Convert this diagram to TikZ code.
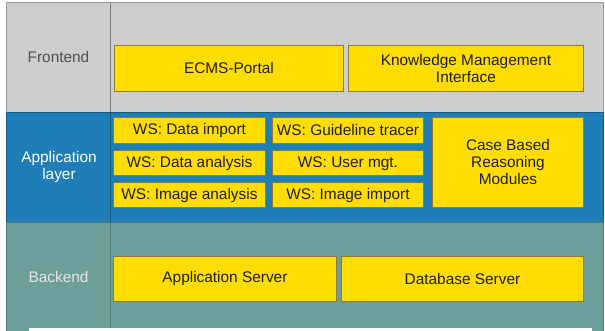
\documentclass[tikz,border=0pt]{standalone}
\usepackage{fontspec}
\setmainfont{Liberation Sans}
\definecolor{feGray}{HTML}{CDCDCD}
\definecolor{feLine}{HTML}{9A9A9A}
\definecolor{feDiv}{HTML}{7C7C7C}
\definecolor{apBlue}{HTML}{1F7DB7}
\definecolor{apLine}{HTML}{145A86}
\definecolor{beTeal}{HTML}{6C9F99}
\definecolor{beLine}{HTML}{4C7A74}
\definecolor{boxYellow}{HTML}{FFDD00}
\definecolor{boxLine}{HTML}{8A7D30}
\definecolor{boxText}{HTML}{1E1E1E}
\newcommand\lblfont{\fontsize{15.4}{17}\selectfont}
\begin{document}
\begin{tikzpicture}[x=1pt,y=-1pt,
  bandbox/.style={line width=0.8pt},
  ybox/.style={draw=boxLine, fill=boxYellow, line width=0.9pt, anchor=north west,
    inner sep=0pt, align=center, text=boxText, font=\lblfont},
  lbl/.style={align=center, font=\lblfont}]
\useasboundingbox (0,0) rectangle (605,331);
% bands
\draw[bandbox, fill=feGray, draw=feLine] (6,2) rectangle (603,112);
\draw[bandbox, fill=apBlue, draw=apLine] (6,112) rectangle (603,222);
\draw[bandbox, fill=beTeal, draw=beLine] (6,222) rectangle (603,333);
\draw[line width=0.9pt, draw=feDiv] (110.7,2) -- (110.7,112);
\draw[line width=0.9pt, draw=apLine] (110.7,112) -- (110.7,222);
\draw[line width=0.9pt, draw=beLine] (110.7,222) -- (110.7,331);
\fill[white] (29,328) rectangle (592,331);
% labels
\node[lbl, text=black!68] (fe) at (58.5,57) {Frontend};
\node[lbl, text=white] (ap) at (59,167) {Application\\layer};
\node[lbl, text=white!90!black] (be) at (58.5,277) {Backend};
% frontend boxes
\node[ybox, minimum width=229pt, minimum height=46pt] (ecms) at (114,45) {ECMS-Portal};
\node[ybox, minimum width=235pt, minimum height=46pt] (km) at (348,45) {Knowledge Management\\Interface};
% application boxes
\node[ybox, minimum width=152pt, minimum height=26pt] (wsdi) at (113,117) {WS: Data import};
\node[ybox, minimum width=152pt, minimum height=25pt] (wsda) at (113,150.5) {WS: Data analysis};
\node[ybox, minimum width=152pt, minimum height=25pt] (wsia) at (113,182.5) {WS: Image analysis};
\node[ybox, minimum width=151pt, minimum height=26pt] (wsgt) at (272,117) {WS: Guideline tracer};
\node[ybox, minimum width=151pt, minimum height=25pt] (wsum) at (272,150.5) {WS: User mgt.};
\node[ybox, minimum width=151pt, minimum height=25pt] (wsii) at (272,182.5) {WS: Image import};
\node[ybox, minimum width=151pt, minimum height=90pt] (cbr) at (432,117) {Case Based\\Reasoning\\Modules};
% backend boxes
\node[ybox, minimum width=223pt, minimum height=45pt] (as) at (113,256) {Application Server};
\node[ybox, minimum width=242pt, minimum height=45pt] (db) at (341,256) {Database Server};
\end{tikzpicture}
\end{document}
